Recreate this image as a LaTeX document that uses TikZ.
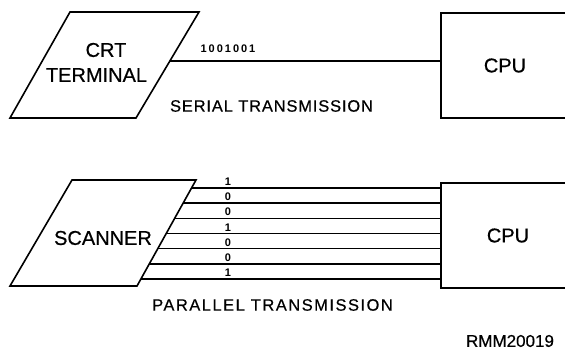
\documentclass[tikz,border=0pt]{standalone}
\usepackage{fontspec}
\setmainfont{Liberation Sans}
\usetikzlibrary{calc}
\begin{document}
\begin{tikzpicture}[x=1pt,y=-1pt,line width=1.6pt,
  cpubox/.style={draw,minimum height=105pt,font=\fontsize{20}{22}\selectfont\addfontfeature{FakeBold=0.6}},
  big/.style={font=\fontsize{20}{22}\selectfont\addfontfeature{FakeBold=0.6}},
  caption/.style={font=\fontsize{16.5}{18}\selectfont\addfontfeature{LetterSpace=5,FakeBold=0.5}},
  widecaption/.style={font=\fontsize{16.5}{18}\selectfont\addfontfeature{LetterSpace=9,FakeBold=0.5}},
  bits/.style={font=\fontsize{11}{11}\selectfont\bfseries\addfontfeature{LetterSpace=18},inner sep=0pt}]
\clip (0,0) rectangle (565,352);
\coordinate (crtA) at (70,12);
\coordinate (crtB) at (199,12);
\coordinate (crtC) at (136,118);
\coordinate (crtD) at (10,118);
\draw (crtA) -- (crtB) -- (crtC) -- (crtD) -- cycle;
\node[big] (crt) at (106,50) {CRT};
\node[big] (term) at (96.5,75) {TERMINAL};
\node[cpubox,minimum width=128pt] (cpu1) at (505,65.5) {CPU};
\coordinate (ser) at ($(crtB)!0.462!(crtC)$);
\draw (ser) -- (ser -| cpu1.west);
\node[bits,anchor=base] (sbits) at (228,53) {1001001};
\node[caption] (stext) at (271.5,106) {SERIAL TRANSMISSION};
\coordinate (scnA) at (72,180);
\coordinate (scnB) at (196,180);
\coordinate (scnC) at (137,286);
\coordinate (scnD) at (10,286);
\draw (scnA) -- (scnB) -- (scnC) -- (scnD) -- cycle;
\node[big] (scan) at (103,238) {SCANNER};
\node[cpubox,minimum width=134pt] (cpu2) at (508,235.5) {CPU};
\foreach \b [count=\i] in {1,0,0,1,0,0,1} {
  \pgfmathsetmacro\yy{188+15.17*(\i-1)}
  \coordinate (p\i) at ($(scnB)!{(\yy-180)/106}!(scnC)$);
  \draw (p\i) -- (p\i -| cpu2.west);
  \node[bits,anchor=base] (b\i) at (228,\yy-2.5) {\b};
}
\node[widecaption] (ptext) at (272.5,305) {PARALLEL TRANSMISSION};
\node[font=\fontsize{17}{18}\selectfont\addfontfeature{FakeBold=0.5}] (ref) at (510,341) {RMM20019};
\end{tikzpicture}
\end{document}
